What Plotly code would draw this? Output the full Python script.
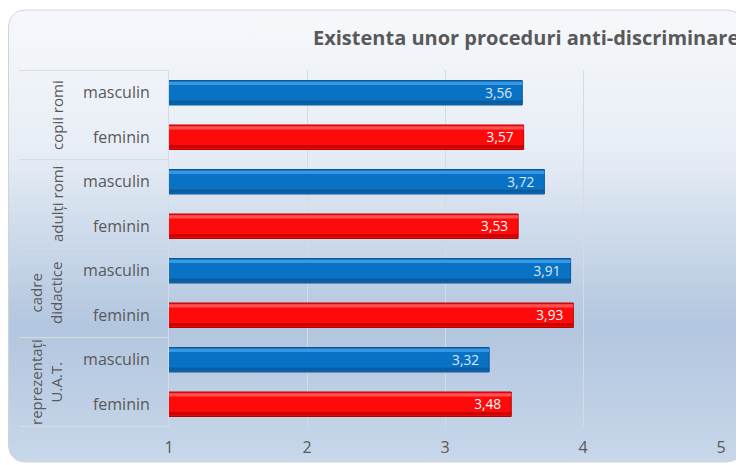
import math

import plotly.graph_objects as go

W, H = 744, 465
# the page body adds an 8px margin, so positions are given in screen pixels and shifted back
OX, OY = 8, 8

groups = ["copii romi", "adulți romi", "cadre<br>didactice", "reprezentați<br>U.A.T."]
genders = ["masculin", "feminin"]
masculin = [3.56, 3.72, 3.91, 3.32]
feminin = [3.57, 3.53, 3.93, 3.48]
x_ticks = [1, 2, 3, 4, 5]
title = "Existenta unor proceduri anti-discriminare"

cats = [f"{g}|{s}" for g in groups for s in genders]
masc_cats = [f"{g}|masculin" for g in groups]
fem_cats = [f"{g}|feminin" for g in groups]

GRAY = "#595959"
FONT = "Open Sans"
BAR_W = 0.55


def px_x(v):
    return (v - OX) / W


def px_y(v):
    return 1 - (v - OY) / H


fig = go.Figure()

# card background: rounded rectangle with a vertical gradient, on its own hidden axes
x0, x1, y0, y1, r = 8.5, 743, 10, 462, 16
px, py = [], []
corners = [(x1 - r, y0 + r, -90, 0), (x1 - r, y1 - r, 0, 90), (x0 + r, y1 - r, 90, 180), (x0 + r, y0 + r, 180, 270)]
for ccx, ccy, a0, a1 in corners:
    for k in range(9):
        a = math.radians(a0 + (a1 - a0) * k / 8)
        px.append(ccx + r * math.cos(a) - OX)
        py.append(H - (ccy + r * math.sin(a) - OY))
px.append(px[0])
py.append(py[0])
fig.add_trace(go.Scatter(
    x=px, y=py, xaxis="x", yaxis="y", mode="lines", fill="toself",
    line=dict(color="#d0d4da", width=1),
    fillgradient=dict(
        type="vertical", start=H - (y0 - OY), stop=H - (y1 - OY),
        colorscale=[[0, "#f6f8fb"], [0.3, "#e8eef6"], [0.7, "#b2c6df"], [1, "#c8d7ea"]],
    ),
    hoverinfo="skip", showlegend=False,
))


def add_bars(cats_, vals, body, light, dark, text_color, name):
    fig.add_trace(go.Bar(
        y=cats_, x=vals, orientation="h", width=BAR_W, xaxis="x2", yaxis="y2",
        marker=dict(color=body, line=dict(color=dark, width=1)),
        texttemplate="%{x:.2f}\u00a0\u00a0", textposition="inside", insidetextanchor="end",
        textfont=dict(color=text_color, size=17, family=FONT),
        showlegend=False, name=name,
    ))
    # bevel: light strip along the top edge, darker strip along the bottom edge
    for color, off in [(light, -BAR_W / 2 + 0.03), (dark, BAR_W / 2 - 0.10)]:
        fig.add_trace(go.Bar(
            y=cats_, x=vals, orientation="h", width=0.07, offset=off, xaxis="x2", yaxis="y2",
            marker=dict(color=color, line=dict(width=0), opacity=0.75),
            hoverinfo="skip", showlegend=False, name=name,
        ))


add_bars(masc_cats, masculin, "#0a72c4", "#45a6ee", "#0b5592", "#dce9f7", "masculin")
add_bars(fem_cats, feminin, "#ff0a0a", "#ff6a6a", "#b80000", "#ffffff", "feminin")

shapes = []
for b in [-0.5, 1.5, 3.5, 5.5, 7.5]:
    shapes.append(dict(type="line", xref="paper", yref="y2", x0=px_x(19), x1=px_x(169),
                       y0=b, y1=b, line=dict(color="#d6dbe2", width=1)))

group_x = [57, 57, 46, 46]
annotations = []
for i, g in enumerate(groups):
    annotations.append(dict(
        text=g, xref="paper", yref="y2", x=px_x(group_x[i]), y=2 * i + 0.5,
        textangle=-90, showarrow=False, font=dict(size=15, color=GRAY, family=FONT),
        xanchor="center", yanchor="middle",
    ))
annotations.append(dict(
    text=f"<b>{title}</b>", xref="paper", yref="paper", x=px_x(311), y=px_y(38),
    xanchor="left", yanchor="middle", showarrow=False,
    font=dict(size=20, color=GRAY, family=FONT),
))

fig.update_layout(
    width=W, height=H,
    margin=dict(l=0, r=0, t=0, b=0, autoexpand=False),
    paper_bgcolor="white", plot_bgcolor="rgba(0,0,0,0)",
    separators=",.",
    barmode="overlay",
    font=dict(family=FONT, color=GRAY),
    shapes=shapes, annotations=annotations,
    xaxis=dict(domain=[0, 1], range=[0, W], visible=False, anchor="y"),
    yaxis=dict(domain=[0, 1], range=[0, H], visible=False, anchor="x"),
    xaxis2=dict(
        domain=[px_x(169), px_x(721)], range=[1, 5], tickvals=x_ticks, anchor="y2",
        showgrid=True, gridcolor="#d5dbe3", gridwidth=1, zeroline=False,
        showline=False, ticks="", ticklabelstandoff=9,
        tickfont=dict(size=16, color=GRAY, family=FONT),
    ),
    yaxis2=dict(
        domain=[px_y(427), px_y(70)], categoryorder="array", categoryarray=cats,
        autorange="reversed", tickvals=cats, ticktext=[c.split("|")[1] for c in cats],
        showline=True, linecolor="#d6dbe2", linewidth=1, showgrid=False, anchor="x2",
        ticks="", ticklabelstandoff=15,
        tickfont=dict(size=16, color=GRAY, family=FONT),
    ),
)

fig.write_html("out.html")
